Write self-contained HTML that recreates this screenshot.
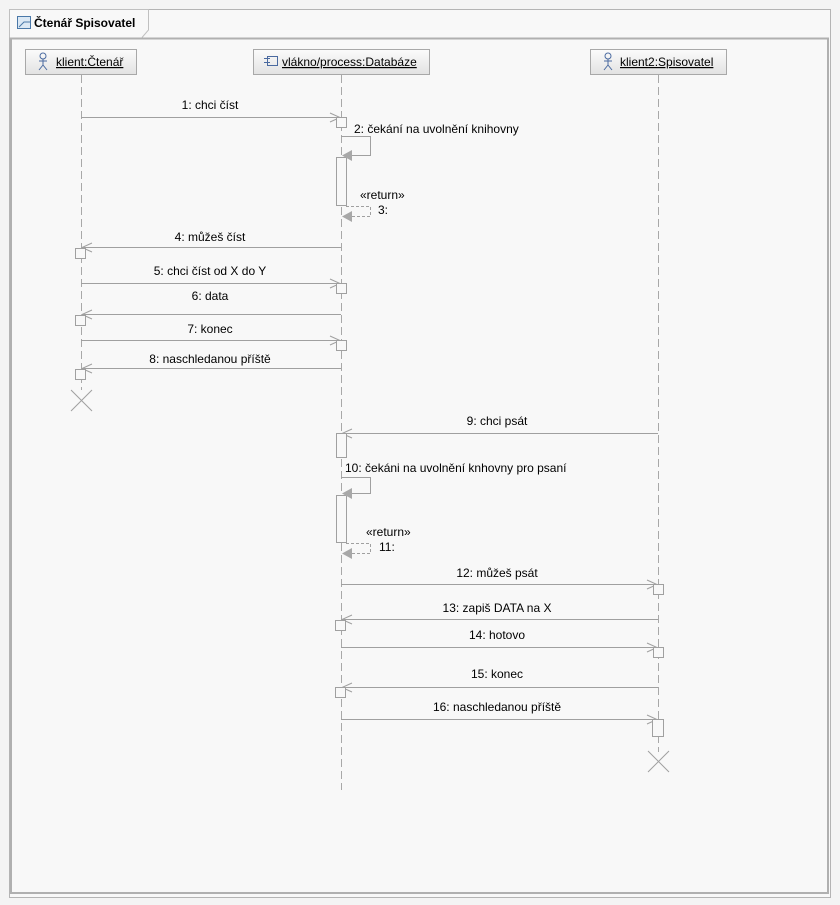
<!DOCTYPE html>
<html><head><meta charset="utf-8"><style>
html,body{margin:0;padding:0;background:#f4f4f4;}
svg{display:block;}
text{font-family:"Liberation Sans","DejaVu Sans",sans-serif;font-size:12px;fill:#000;}
</style></head><body>
<svg width="840" height="905" viewBox="0 0 840 905" xmlns="http://www.w3.org/2000/svg">
<defs>
<linearGradient id="hg" x1="0" y1="0" x2="0" y2="1"><stop offset="0" stop-color="#fbfbfb"/><stop offset="1" stop-color="#e2e2e2"/></linearGradient>
</defs>
<rect x="0" y="0" width="840" height="905" fill="#f4f4f4"/>
<!-- outer frame -->
<rect x="9.5" y="9.5" width="821" height="888" fill="#f8f8f8" stroke="#b4b4b4"/>
<!-- tab -->
<path d="M9.5 37.5 V9.5 H148.5 V30 L142 37.5" fill="#f8f8f8" stroke="#c0c0c0"/>
<rect x="17.5" y="16.5" width="13" height="12" fill="#dbe8f4" stroke="#4a78a8"/>
<path d="M19 27 L24 22 H30" fill="none" stroke="#4a78a8"/>
<text x="34" y="27" font-weight="bold">Čtenář Spisovatel</text>
<!-- inner frame -->
<rect x="11" y="38.5" width="817" height="854.5" fill="none" stroke="#b0b0b0" stroke-width="2"/>

<!-- headers -->
<rect x="25.5" y="49.5" width="111" height="25" fill="url(#hg)" stroke="#a8a8a8"/>
<rect x="253.5" y="49.5" width="176" height="25" fill="url(#hg)" stroke="#a8a8a8"/>
<rect x="590.5" y="49.5" width="136" height="25" fill="url(#hg)" stroke="#a8a8a8"/>
<g stroke="#4a6aa0" fill="none" stroke-width="1">
<circle cx="43" cy="56" r="3"/><path d="M43 59 V65 M39 61 H47 M43 65 L39 70 M43 65 L47 70"/>
<circle cx="608" cy="56" r="3"/><path d="M608 59 V65 M604 61 H612 M608 65 L604 70 M608 65 L612 70"/>
<rect x="267.5" y="56.5" width="10" height="9"/><path d="M264 58.5 H270 M264 62.5 H270"/>
</g>
<text x="56" y="66" text-decoration="underline">klient:Čtenář</text>
<text x="282" y="66" text-decoration="underline">vlákno/process:Databáze</text>
<text x="620" y="66" text-decoration="underline">klient2:Spisovatel</text>

<!-- lifelines -->
<g stroke="#a8a8a8" stroke-dasharray="8,4" fill="none">
<line x1="81.5" y1="75" x2="81.5" y2="390"/>
<line x1="341.5" y1="75" x2="341.5" y2="790"/>
<line x1="658.5" y1="75" x2="658.5" y2="752"/>
</g>

<g stroke="#a0a0a0" fill="none">
<!-- 1 -->
<line x1="81" y1="117.5" x2="340" y2="117.5"/><path d="M330 113 L340 117.5 L330 122"/>
<rect x="336.5" y="117.5" width="10" height="10" fill="#f8f8f8"/>
<!-- 2 self -->
<path d="M341 136.5 H370.5 V155.5 H346"/>
<rect x="336.5" y="157.5" width="10" height="48" fill="#f8f8f8"/>
<!-- 3 return -->
<path d="M346 206.5 H370.5 V216.5 H346" stroke-dasharray="3,2"/>
<!-- 4 -->
<line x1="82" y1="247.5" x2="341" y2="247.5"/><path d="M92 243 L82 247.5 L92 252"/>
<rect x="75.5" y="248.5" width="10" height="10" fill="#f8f8f8"/>
<!-- 5 -->
<line x1="81" y1="283.5" x2="340" y2="283.5"/><path d="M330 279 L340 283.5 L330 288"/>
<rect x="336.5" y="283.5" width="10" height="10" fill="#f8f8f8"/>
<!-- 6 -->
<line x1="82" y1="314.5" x2="341" y2="314.5"/><path d="M92 310 L82 314.5 L92 319"/>
<rect x="75.5" y="315.5" width="10" height="10" fill="#f8f8f8"/>
<!-- 7 -->
<line x1="81" y1="340.5" x2="340" y2="340.5"/><path d="M330 336 L340 340.5 L330 345"/>
<rect x="336.5" y="340.5" width="10" height="10" fill="#f8f8f8"/>
<!-- 8 -->
<line x1="82" y1="368.5" x2="341" y2="368.5"/><path d="M92 364 L82 368.5 L92 373"/>
<rect x="75.5" y="369.5" width="10" height="10" fill="#f8f8f8"/>
<path d="M71 390 L92 411 M92 390 L71 411"/>
<!-- 9 -->
<line x1="342" y1="433.5" x2="658" y2="433.5"/><path d="M352 429 L342 433.5 L352 438"/>
<rect x="336.5" y="433.5" width="10" height="24" fill="#f8f8f8"/>
<!-- 10 self -->
<path d="M341 477.5 H370.5 V493.5 H346"/>
<rect x="336.5" y="495.5" width="10" height="47" fill="#f8f8f8"/>
<!-- 11 -->
<path d="M346 543.5 H370.5 V553.5 H346" stroke-dasharray="3,2"/>
<!-- 12 -->
<line x1="341" y1="584.5" x2="657" y2="584.5"/><path d="M647 580 L657 584.5 L647 589"/>
<rect x="653.5" y="584.5" width="10" height="10" fill="#f8f8f8"/>
<!-- 13 -->
<line x1="342" y1="619.5" x2="658" y2="619.5"/><path d="M352 615 L342 619.5 L352 624"/>
<rect x="335.5" y="620.5" width="10" height="10" fill="#f8f8f8"/>
<!-- 14 -->
<line x1="341" y1="647.5" x2="657" y2="647.5"/><path d="M647 643 L657 647.5 L647 652"/>
<rect x="653.5" y="647.5" width="10" height="10" fill="#f8f8f8"/>
<!-- 15 -->
<line x1="342" y1="687.5" x2="658" y2="687.5"/><path d="M352 683 L342 687.5 L352 692"/>
<rect x="335.5" y="687.5" width="10" height="10" fill="#f8f8f8"/>
<!-- 16 -->
<line x1="341" y1="719.5" x2="657" y2="719.5"/><path d="M647 715 L657 719.5 L647 724"/>
<rect x="652.5" y="719.5" width="11" height="17" fill="#f8f8f8"/>
<path d="M648 751 L669 772 M669 751 L648 772"/>
</g>
<!-- filled arrowheads -->
<g fill="#a8a8a8">
<path d="M342 155.5 L352 150 L352 161 Z"/>
<path d="M342 216.5 L352 211 L352 222 Z"/>
<path d="M342 493.5 L352 488 L352 499 Z"/>
<path d="M342 553.5 L352 548 L352 559 Z"/>
</g>

<!-- labels -->
<g text-anchor="middle">
<text x="210" y="109">1: chci číst</text>
<text x="210" y="241">4: můžeš číst</text>
<text x="210" y="275">5: chci číst od X do Y</text>
<text x="210" y="300">6: data</text>
<text x="210" y="333">7: konec</text>
<text x="210" y="363">8: naschledanou příště</text>
<text x="497" y="425">9: chci psát</text>
<text x="497" y="577">12: můžeš psát</text>
<text x="497" y="612">13: zapiš DATA na X</text>
<text x="497" y="639">14: hotovo</text>
<text x="497" y="678">15: konec</text>
<text x="497" y="711">16: naschledanou příště</text>
</g>
<text x="354" y="133">2: čekání na uvolnění knihovny</text>
<text x="360" y="199">«return»</text>
<text x="378" y="214">3:</text>
<text x="345" y="472">10: čekáni na uvolnění knhovny pro psaní</text>
<text x="366" y="536">«return»</text>
<text x="379" y="551">11:</text>
</svg>
</body></html>
